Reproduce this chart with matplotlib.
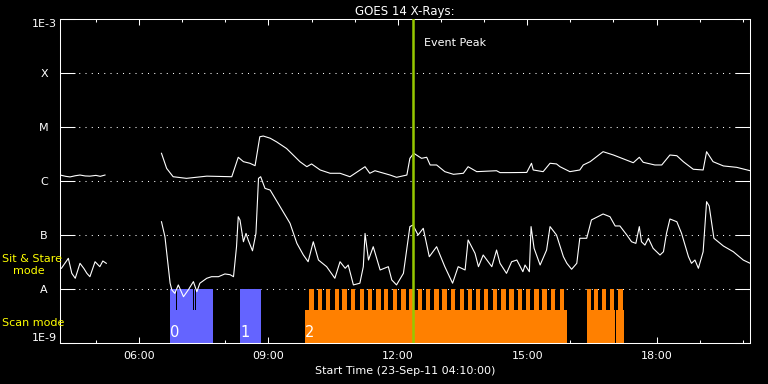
import numpy as np
import matplotlib
matplotlib.use('Agg')
import matplotlib.pyplot as plt
import matplotlib.transforms as mtransforms
from matplotlib.ticker import NullLocator

# GOES 14 curves, time in hours of 23-Sep-11, flux in W/m^2 (nan = data gap)
long_t = [4.17, 4.30, 4.40, 4.52, 4.63, 4.75, 4.86, 5.00, 5.10, 5.21, 5.9,
          6.52, 6.64, 6.79, 7.10, 7.57, 8.15, 8.30, 8.42, 8.57, 8.69, 8.80, 8.88,
          9.04, 9.19, 9.42, 9.73, 9.89, 10.00, 10.20, 10.43, 10.66, 10.89, 11.24,
          11.35, 11.47, 11.82, 11.97, 12.21, 12.28, 12.37, 12.55, 12.67, 12.75,
          12.90, 13.09, 13.29, 13.52, 13.63, 13.83, 14.29, 14.37, 14.60, 14.99,
          15.10, 15.14, 15.37, 15.53, 15.68, 15.76, 15.99, 16.22, 16.30, 16.46,
          16.76, 17.00, 17.46, 17.60, 17.69, 17.96, 18.12, 18.31, 18.47, 18.62,
          18.85, 19.08, 19.16, 19.31, 19.55, 19.86, 20.17]
long_f = [1.29e-6, 1.22e-6, 1.19e-6, 1.25e-6, 1.29e-6, 1.24e-6, 1.23e-6, 1.27e-6, 1.22e-6, 1.29e-6, np.nan,
          3.26e-6, 1.71e-6, 1.20e-6, 1.12e-6, 1.23e-6, 1.20e-6, 2.75e-6, 2.28e-6, 2.13e-6, 1.92e-6, 6.6e-6, 6.8e-6,
          6.2e-6, 5.3e-6, 4.0e-6, 2.28e-6, 1.84e-6, 2.07e-6, 1.60e-6, 1.39e-6, 1.39e-6, 1.20e-6, 1.84e-6,
          1.39e-6, 1.55e-6, 1.29e-6, 1.17e-6, 1.29e-6, 2.63e-6, 3.26e-6, 2.63e-6, 2.75e-6, 1.98e-6,
          1.98e-6, 1.49e-6, 1.33e-6, 1.39e-6, 1.84e-6, 1.49e-6, 1.55e-6, 1.43e-6, 1.43e-6, 1.44e-6,
          2.13e-6, 1.60e-6, 1.49e-6, 2.13e-6, 2.07e-6, 1.84e-6, 1.49e-6, 1.60e-6, 1.98e-6, 2.28e-6,
          3.49e-6, 3.03e-6, 2.18e-6, 2.75e-6, 2.22e-6, 1.98e-6, 1.98e-6, 3.03e-6, 2.94e-6, 2.28e-6,
          1.65e-6, 1.60e-6, 3.49e-6, 2.28e-6, 1.90e-6, 1.79e-6, 1.55e-6]

short_t = [4.20, 4.28, 4.36, 4.44, 4.52, 4.63, 4.72, 4.79, 4.86, 4.98, 5.09, 5.16, 5.24, 5.9,
           6.52, 6.60, 6.72, 6.76, 6.83, 6.91, 7.03, 7.14, 7.26, 7.34, 7.41, 7.57, 7.68,
           7.84, 7.99, 8.11, 8.19, 8.26, 8.30, 8.34, 8.42, 8.48, 8.53, 8.63, 8.71, 8.77,
           8.82, 8.92, 9.04, 9.27, 9.50, 9.66, 9.81, 9.92, 10.04, 10.16, 10.35, 10.54,
           10.66, 10.78, 10.85, 10.97, 11.12, 11.20, 11.24, 11.32, 11.43, 11.59, 11.78,
           11.86, 11.97, 12.13, 12.28, 12.35, 12.47, 12.59, 12.73, 12.90, 13.09, 13.27,
           13.40, 13.56, 13.63, 13.79, 13.87, 13.98, 14.18, 14.29, 14.37, 14.52, 14.64,
           14.76, 14.90, 14.95, 15.05, 15.09, 15.16, 15.30, 15.45, 15.53, 15.68, 15.84,
           15.92, 16.03, 16.15, 16.22, 16.38, 16.49, 16.76, 16.92, 17.04, 17.15, 17.31,
           17.42, 17.52, 17.60, 17.65, 17.73, 17.81, 17.92, 18.08, 18.16, 18.23, 18.31,
           18.47, 18.58, 18.74, 18.81, 18.89, 18.97, 19.08, 19.16, 19.22, 19.33, 19.55,
           19.78, 20.01, 20.17]
short_f = [2.42e-8, 3.0e-8, 3.70e-8, 1.95e-8, 1.58e-8, 2.99e-8, 2.4e-8, 1.95e-8, 1.69e-8, 3.2e-8, 2.59e-8, 3.3e-8, 2.99e-8, np.nan,
           1.76e-7, 9.3e-8, 1.28e-8, 9.6e-9, 8.3e-9, 1.19e-8, 7.2e-9, 9.6e-9, 1.37e-8, 8.9e-9, 1.28e-8, 1.58e-8, 1.69e-8,
           1.69e-8, 1.9e-8, 1.84e-8, 1.69e-8, 6.07e-8, 2.18e-7, 1.90e-7, 7.5e-8, 1.07e-7, 8.1e-8, 5.1e-8, 1.07e-7, 1.12e-6,
           1.20e-6, 7.3e-7, 6.8e-7, 3.34e-7, 1.65e-7, 7.0e-8, 4.26e-8, 3.2e-8, 7.5e-8, 3.44e-8, 2.59e-8, 1.58e-8,
           3.2e-8, 2.42e-8, 2.78e-8, 1.19e-8, 1.28e-8, 2.59e-8, 1.07e-7, 3.44e-8, 6.07e-8, 2.25e-8, 2.59e-8,
           1.47e-8, 1.19e-8, 1.95e-8, 1.43e-7, 1.53e-7, 1.0e-7, 1.33e-7, 3.96e-8, 6.07e-8, 2.59e-8, 1.28e-8,
           2.59e-8, 2.25e-8, 8.1e-8, 4.58e-8, 2.59e-8, 4.26e-8, 2.59e-8, 5.27e-8, 2.99e-8, 1.95e-8, 3.2e-8,
           3.44e-8, 2.09e-8, 2.78e-8, 2.09e-8, 1.43e-7, 5.67e-8, 2.78e-8, 5.27e-8, 1.43e-7, 1.0e-7, 3.96e-8,
           2.99e-8, 2.32e-8, 2.99e-8, 8.7e-8, 8.7e-8, 1.90e-7, 2.45e-7, 2.18e-7, 1.47e-7, 1.47e-7, 1.0e-7,
           7.5e-8, 7.0e-8, 1.43e-7, 7.5e-8, 6.5e-8, 8.7e-8, 5.67e-8, 4.26e-8, 4.9e-8, 1.07e-7, 1.98e-7,
           1.76e-7, 1.07e-7, 3.96e-8, 2.99e-8, 3.44e-8, 2.42e-8, 4.9e-8, 4.14e-7, 3.44e-7, 8.7e-8, 6.25e-8,
           4.9e-8, 3.44e-8, 2.99e-8]

# observing blocks (hours): full block spans and individual scans
blue_blocks = [(6.72, 7.71), (8.34, 8.83)]
blue_scans = [(6.72, 6.86), (6.88, 7.24), (7.27, 7.30), (7.32, 7.71), (8.34, 8.61), (8.63, 8.83)]
orange_blocks = [(9.85, 15.92), (16.38, 17.04), (17.06, 17.25)]
orange_scan_starts = ["09:57", "10:09", "10:20", "10:32", "10:43", "10:55", "11:07", "11:18",
                      "11:30", "11:41", "11:53", "12:05", "12:16", "12:28", "12:39", "12:51",
                      "13:02", "13:14", "13:26", "13:37", "13:49", "14:00", "14:12", "14:24",
                      "14:35", "14:47", "14:58", "15:10", "15:21", "15:33", "15:45",
                      "16:23", "16:33", "16:44", "16:55", "17:07"]
scan_minutes = 6
block_labels = ["0", "1", "2"]
block_label_t = [6.72, 8.34, 9.85]

event_peak = 12.35
x_ticks = [6, 9, 12, 15, 18]
x_ticklabels = ["06:00", "09:00", "12:00", "15:00", "18:00"]
y_ticks = [1e-9, 1e-8, 1e-7, 1e-6, 1e-5, 1e-4, 1e-3]
y_ticklabels = ["1E-9", "A", "B", "C", "M", "X", "1E-3"]
t_start, t_end = 4 + 10 / 60, 20 + 10 / 60


def hours(s):
    h, m = s.split(":")
    return int(h) + int(m) / 60


fig = plt.figure(figsize=(7.68, 3.84), dpi=100, facecolor='black')
ax = fig.add_axes([60 / 768, 41 / 384, 690 / 768, 324 / 384], facecolor='black')
ax.set_yscale('log')
ax.set_ylim(1e-9, 1e-3)
ax.set_xlim(t_start, t_end)

a_level = 1 / 6
base_level = 0.102
for v in y_ticks[1:-1]:
    ax.axhline(v, color='white', lw=0.75, ls=(0, (1, 5)), zorder=1)

for s, e in blue_blocks:
    ax.axvspan(s, e, ymin=0, ymax=base_level, color='#6464FF', lw=0, zorder=2)
for s, e in blue_scans:
    ax.axvspan(s, e, ymin=0, ymax=a_level, color='#6464FF', lw=0, zorder=2)
for s, e in orange_blocks:
    ax.axvspan(s, e, ymin=0, ymax=base_level, color='#FF8000', lw=0, zorder=2)
for s in orange_scan_starts:
    t0 = hours(s)
    ax.axvspan(t0, t0 + scan_minutes / 60, ymin=0, ymax=a_level, color='#FF8000', lw=0, zorder=2)

trans = mtransforms.blended_transform_factory(ax.transData, ax.transAxes)
for lab, t in zip(block_labels, block_label_t):
    ax.text(t, 0.008, lab, transform=trans, color='white', fontsize=10.5,
            ha='left', va='bottom', zorder=4)

ax.plot(long_t, long_f, color='white', lw=0.8, zorder=3)
ax.plot(short_t, short_f, color='white', lw=0.8, zorder=3)

ax.axvline(event_peak, color='#96C800', lw=1.8, zorder=5)
ax.annotate('Event Peak', xy=(event_peak, 0.926), xycoords=trans, xytext=(8, 0),
            textcoords='offset points', color='white', fontsize=8, ha='left', va='center')

for sp in ax.spines.values():
    sp.set_color('white')
    sp.set_linewidth(0.75)

ax.set_yticks(y_ticks)
ax.set_yticklabels(y_ticklabels)
ax.yaxis.set_minor_locator(NullLocator())
ax.tick_params(axis='y', which='major', direction='in', length=10.8, width=0.75,
               colors='white', left=True, right=True, pad=11.5, labelsize=8)
ticks = ax.yaxis.get_major_ticks()
for tk in ticks:
    tk.label1.set_horizontalalignment('center')
ticks[0].label1.set_verticalalignment('bottom')
ticks[-1].label1.set_verticalalignment('top')

ax.set_xticks(x_ticks)
ax.set_xticklabels(x_ticklabels)
ax.set_xticks(range(5, 21), minor=True)
ax.tick_params(axis='x', which='major', direction='in', length=4.5, width=0.75,
               colors='white', top=True, bottom=True, pad=6, labelsize=8)
ax.tick_params(axis='x', which='minor', direction='in', length=2.5, width=0.75,
               colors='white', top=True, bottom=True)

ax.set_title('GOES 14 X-Rays:', color='white', fontsize=8.5, pad=3)
ax.set_xlabel('Start Time (23-Sep-11 04:10:00)', color='white', fontsize=8, labelpad=3)

fig.text(2 / 768, 1 - 259 / 384, 'Sit & Stare', color='#FFFF00', fontsize=8, ha='left', va='center')
fig.text(13 / 768, 1 - 271 / 384, 'mode', color='#FFFF00', fontsize=8, ha='left', va='center')
fig.text(2 / 768, 1 - 323 / 384, 'Scan mode', color='#FFFF00', fontsize=8, ha='left', va='center')

fig.savefig('out.png', dpi=100, facecolor='black')
